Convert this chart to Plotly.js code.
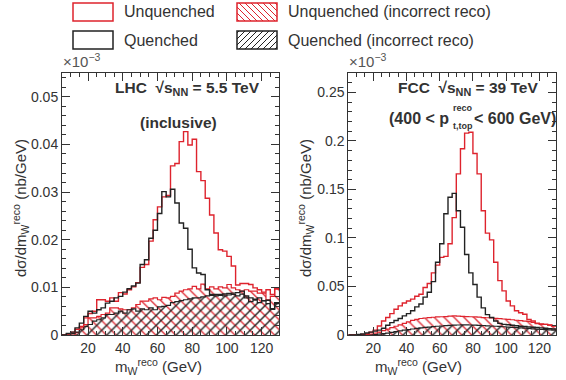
<!DOCTYPE html>
<html>
<head>
<meta charset="utf-8">
<script src="https://cdn.plot.ly/plotly-3.0.1.min.js"></script>
<style>
html,body{margin:0;padding:0;background:#fff;}
#chart{width:566px;height:380px;}
</style>
</head>
<body>
<div id="chart"></div>
<script>
// ---- data ----
const binEdges = [5,7.5,10,12.5,15,17.5,20,22.5,25,27.5,30,32.5,35,37.5,40,42.5,45,47.5,50,52.5,55,57.5,60,62.5,65,67.5,70,72.5,75,77.5,80,82.5,85,87.5,90,92.5,95,97.5,100,102.5,105,107.5,110,112.5,115,117.5,120,122.5,125,127.5,130];

const lhcUnquenched = [0,0.0002,0.0006,0.0012,0.0018,0.0036,0.0045,0.005,0.0074,0.0074,
  0.0071,0.0078,0.0071,0.0089,0.0086,0.0095,0.0101,0.011,0.0142,0.0148,
  0.0197,0.0242,0.0269,0.029,0.0293,0.0355,0.036,0.0406,0.0427,0.0399,
  0.0411,0.0343,0.0324,0.0287,0.0252,0.0214,0.0179,0.0176,0.0165,0.0145,
  0.0105,0.0108,0.0108,0.0106,0.0099,0.0095,0.009,0.0095,0.0085,0.0097];
const lhcQuenched = [0,0.0003,0.0006,0.0015,0.0025,0.0039,0.005,0.0046,0.0053,0.0057,
  0.0067,0.0071,0.0078,0.0081,0.009,0.0097,0.0103,0.0109,0.0148,0.0158,
  0.0203,0.022,0.0255,0.0301,0.029,0.0306,0.0277,0.0235,0.0224,0.018,
  0.0141,0.013,0.0127,0.0095,0.0085,0.0085,0.0085,0.0086,0.0087,0.0088,
  0.0089,0.0092,0.0082,0.0078,0.0075,0.0078,0.0072,0.0073,0.0055,0.0068];
const lhcUnquenchedIncorrect = [0,0,0,0.0005,0.0015,0.0022,0.0036,0.0036,0.0039,0.0043,
  0.0046,0.0057,0.0057,0.0055,0.0053,0.0053,0.0057,0.0064,0.0071,0.0071,
  0.0076,0.0078,0.0074,0.0079,0.0078,0.0081,0.0088,0.0092,0.0095,0.0097,
  0.0102,0.0097,0.0107,0.0097,0.0101,0.0097,0.0101,0.0099,0.0106,0.0099,
  0.0095,0.0092,0.0095,0.0092,0.0092,0.0088,0.0088,0.0074,0.0081,0.0097];
const lhcQuenchedIncorrect = [0,0,0.0003,0.0006,0.0011,0.0018,0.0022,0.0029,0.0032,0.0036,
  0.0043,0.0043,0.0046,0.005,0.0046,0.0053,0.0055,0.005,0.0055,0.0053,
  0.0057,0.0053,0.0059,0.006,0.0062,0.0068,0.007,0.0072,0.0074,0.0076,
  0.0078,0.0078,0.008,0.0082,0.0083,0.0082,0.0083,0.0082,0.0084,0.0085,
  0.0082,0.0086,0.0078,0.007,0.0073,0.0068,0.0072,0.0066,0.0054,0.0066];

const fccUnquenched = [0,0,0.0003,0.0006,0.001,0.003,0.005,0.0093,0.0145,0.018,
  0.022,0.0266,0.03,0.033,0.035,0.037,0.04,0.042,0.049,0.053,
  0.064,0.072,0.08,0.081,0.094,0.121,0.166,0.192,0.208,0.209,
  0.187,0.166,0.128,0.105,0.098,0.075,0.056,0.0455,0.035,0.03,
  0.025,0.023,0.0214,0.016,0.0145,0.0117,0.011,0.011,0.0103,0.0093];
const fccQuenched = [0,0,0.0005,0.001,0.002,0.003,0.004,0.005,0.007,0.01,
  0.0128,0.015,0.017,0.0197,0.022,0.025,0.029,0.032,0.039,0.044,
  0.055,0.075,0.094,0.125,0.142,0.146,0.128,0.111,0.083,0.064,
  0.052,0.039,0.028,0.021,0.018,0.0145,0.012,0.011,0.0105,0.01,
  0.0095,0.009,0.0087,0.0083,0.008,0.0077,0.0073,0.007,0.0066,0.0062];
const fccUnquenchedIncorrect = [0,0,0,0,0.0005,0.001,0.002,0.003,0.0045,0.006,
  0.0075,0.009,0.0105,0.012,0.0135,0.015,0.016,0.017,0.0175,0.018,
  0.0183,0.0186,0.0188,0.019,0.0195,0.0197,0.0195,0.0192,0.019,0.0188,
  0.0186,0.0184,0.018,0.0178,0.0175,0.0172,0.0168,0.0165,0.016,0.0157,
  0.0152,0.0148,0.0144,0.014,0.013,0.0122,0.0115,0.011,0.0102,0.0095];
const fccQuenchedIncorrect = [0,0,0,0,0,0,0.0005,0.001,0.0015,0.002,
  0.0028,0.0035,0.0042,0.005,0.0056,0.0062,0.0068,0.0073,0.0078,0.0082,
  0.0086,0.009,0.0093,0.0096,0.0099,0.0101,0.0103,0.0104,0.0104,0.0103,
  0.0102,0.01,0.0098,0.0095,0.0093,0.009,0.0088,0.0085,0.0082,0.0079,
  0.0076,0.0073,0.007,0.0067,0.0064,0.006,0.0058,0.0055,0.0052,0.005];

const xTickVals = [20,40,60,80,100,120];

// ---- helpers ----
const W = 566, H = 380;
const RED = 'rgb(222,35,45)';
const BLK = '#222';
const TXT = '#333';
const FONT = 'Liberation Sans, Arial, Helvetica, sans-serif';
const centers = binEdges.slice(0,-1).map((e,i)=> (e+binEdges[i+1])/2);

function stepLine(vals, color, xa, ya, w){
  const xs = [binEdges[0]].concat(binEdges);
  const ys = [0].concat(vals).concat([vals[vals.length-1]]);
  return {type:'scatter', mode:'lines', x:xs, y:ys, xaxis:xa, yaxis:ya,
    line:{shape:'hv', color:color, width:w||1.4}, hoverinfo:'skip', showlegend:false, cliponaxis:true};
}
function hatchBars(vals, color, shape, xa, ya, sol){
  return {type:'bar', x:centers, y:vals, width:2.5, xaxis:xa, yaxis:ya,
    marker:{color:'rgba(0,0,0,0)', line:{width:0},
      pattern:{shape:shape, fgcolor:color, bgcolor:'rgba(0,0,0,0)', size:7, solidity:sol}},
    hoverinfo:'skip', showlegend:false};
}

const traces = [
  hatchBars(lhcUnquenchedIncorrect, RED, '\\', 'x', 'y', 0.18),
  hatchBars(lhcQuenchedIncorrect, BLK, '/', 'x', 'y', 0.2),
  stepLine(lhcUnquenchedIncorrect, RED, 'x', 'y', 1.2),
  stepLine(lhcQuenchedIncorrect, BLK, 'x', 'y', 1.2),
  stepLine(lhcUnquenched, RED, 'x', 'y'),
  stepLine(lhcQuenched, BLK, 'x', 'y'),
  hatchBars(fccUnquenchedIncorrect, RED, '\\', 'x2', 'y2', 0.18),
  hatchBars(fccQuenchedIncorrect, BLK, '/', 'x2', 'y2', 0.2),
  stepLine(fccUnquenchedIncorrect, RED, 'x2', 'y2', 1.2),
  stepLine(fccQuenchedIncorrect, BLK, 'x2', 'y2', 1.2),
  stepLine(fccUnquenched, RED, 'x2', 'y2'),
  stepLine(fccQuenched, BLK, 'x2', 'y2')
];

const yBot = 1 - 335/H, yTop = 1 - 73/H;
function xAx(d0, d1, anchor){
  return {domain:[d0/W, d1/W], anchor:anchor, range:[5,130], tickvals:xTickVals,
    ticks:'inside', ticklen:8, tickcolor:TXT, tickwidth:1,
    showline:true, linecolor:TXT, linewidth:1, mirror:'allticks',
    minor:{dtick:5, tick0:0, ticks:'inside', ticklen:4, tickcolor:TXT},
    showgrid:false, zeroline:false, tickfont:{size:14, color:TXT, family:FONT}, fixedrange:true};
}
function yAx(range, dtick, minor, anchor){
  return {domain:[yBot, yTop], anchor:anchor, range:range, dtick:dtick, tick0:0,
    ticks:'inside', ticklen:8, tickcolor:TXT, tickwidth:1,
    showline:true, linecolor:TXT, linewidth:1, mirror:'allticks',
    minor:{dtick:minor, ticks:'inside', ticklen:4, tickcolor:TXT},
    showgrid:false, zeroline:false, tickfont:{size:14, color:TXT, family:FONT}, fixedrange:true};
}

function px(x){return x/W;}
function py(y){return 1 - y/H;}
function ann(text, x, y, opts){
  return Object.assign({text:text, x:px(x), y:py(y), xref:'paper', yref:'paper',
    showarrow:false, font:{size:15.5, color:TXT, family:FONT}, xanchor:'center', yanchor:'middle'}, opts||{});
}
const small = {size:9, color:TXT, family:FONT};
const axT = {size:15, color:TXT, family:FONT};

const annotations = [
  ann('<b>LHC  √s<sub>NN</sub> = 5.5 TeV</b>', 187, 88),
  ann('<b>(inclusive)</b>', 178, 122),
  ann('<b>FCC  √s<sub>NN</sub> = 39 TeV</b>', 468, 88),
  ann('<b>(400 &lt; p</b>', 451, 118, {xanchor:'right', font:{size:16, color:TXT, family:FONT}}),
  ann('<b>reco</b>', 451, 108, {xanchor:'left', font:small}),
  ann('<b>t,top</b>', 451, 126, {xanchor:'left', font:small}),
  ann('<b>&lt; 600 GeV)</b>', 472, 118, {xanchor:'left', font:{size:16, color:TXT, family:FONT}}),
  ann('×10<sup>−3</sup>', 61, 72, {xanchor:'left', yanchor:'bottom', font:{size:15, color:'#555', family:FONT}}),
  ann('×10<sup>−3</sup>', 347, 72, {xanchor:'left', yanchor:'bottom', font:{size:15, color:'#555', family:FONT}}),
  ann('m<sub>W</sub><sup>reco</sup> (GeV)', 158, 366, {font:axT}),
  ann('m<sub>W</sub><sup>reco</sup> (GeV)', 418, 366, {font:axT}),
  ann('dσ/dm<sub>W</sub><sup>reco</sup> (nb/GeV)', 20, 208, {textangle:-90, font:axT}),
  ann('dσ/dm<sub>W</sub><sup>reco</sup> (nb/GeV)', 305, 208, {textangle:-90, font:axT}),
  // legend texts
  ann('Unquenched', 122, 12, {xanchor:'left', font:{size:16, color:TXT, family:FONT}}),
  ann('Unquenched (incorrect reco)', 286, 12, {xanchor:'left', font:{size:16, color:TXT, family:FONT}}),
  ann('Quenched', 122, 40, {xanchor:'left', font:{size:16, color:TXT, family:FONT}}),
  ann('Quenched (incorrect reco)', 286, 40, {xanchor:'left', font:{size:16, color:TXT, family:FONT}})
];

// legend boxes (shapes)
const shapes = [];
function box(x0,y0,x1,y1,color){
  shapes.push({type:'rect', xref:'paper', yref:'paper', x0:px(x0), x1:px(x1), y0:py(y1), y1:py(y0),
    line:{color:color, width:1.5}, fillcolor:'rgba(0,0,0,0)'});
}
function hatch(x0,y0,x1,y1,color,dir){
  const h = y1-y0, step = 6;
  for(let c = x0 - h + 2; c < x1; c += step){
    let ax = c, ay = y0, bx = c + h, by = y1;
    if(ax < x0){ ay = y0 + (x0 - ax); ax = x0; }
    if(bx > x1){ by = y0 + (x1 - c); bx = x1; }
    if(bx - ax < 0.5) continue;
    let s;
    if(dir === '\\'){ s = {x0:ax, y0:ay, x1:bx, y1:by}; }
    else { s = {x0:ax, y0:y0 + y1 - ay, x1:bx, y1:y0 + y1 - by}; }
    shapes.push({type:'line', xref:'paper', yref:'paper', x0:px(s.x0), y0:py(s.y0), x1:px(s.x1), y1:py(s.y1),
      line:{color:color, width:1}});
  }
}
box(73,3,113,21,RED);
hatch(237,3,277,21,RED,'\\');
box(237,3,277,21,RED);
box(73,31,113,49,BLK);
hatch(237,31,277,49,BLK,'/');
box(237,31,277,49,BLK);

const layout = {
  width:W, height:H, margin:{l:0,r:0,t:0,b:0},
  paper_bgcolor:'#fff', plot_bgcolor:'rgba(0,0,0,0)',
  barmode:'overlay', bargap:0, showlegend:false,
  font:{family:FONT, color:TXT},
  xaxis: xAx(62, 279, 'y'),
  yaxis: yAx([0,0.055], 0.01, 0.002, 'x'),
  xaxis2: xAx(348.3, 556, 'y2'),
  yaxis2: yAx([0,0.27], 0.05, 0.01, 'x2'),
  annotations: annotations,
  shapes: shapes
};

Plotly.newPlot('chart', traces, layout, {staticPlot:true, displayModeBar:false});
</script>
</body>
</html>
